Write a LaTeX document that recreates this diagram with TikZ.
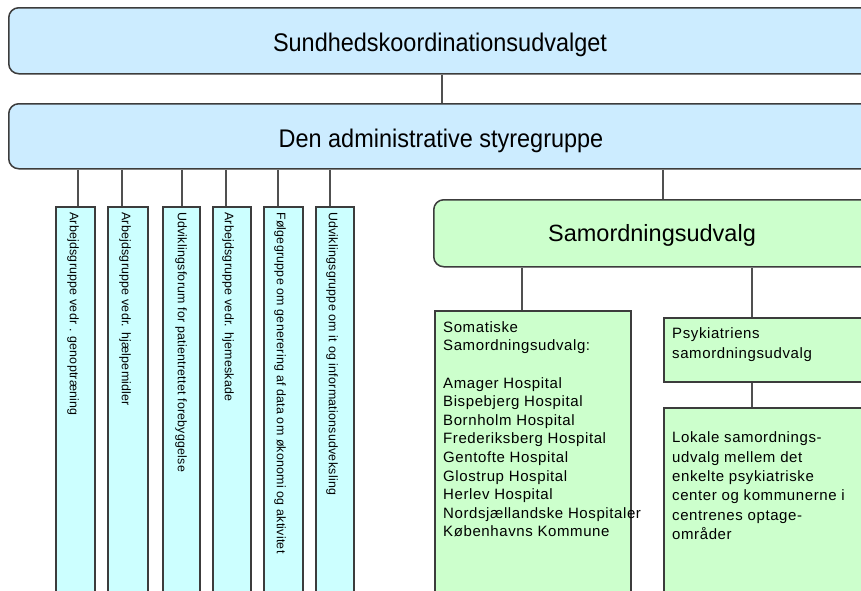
\documentclass[tikz,border=0pt]{standalone}
\usepackage{fontspec}
\setmainfont{Liberation Sans}
\newfontfamily\titlefont[FakeStretch=0.92]{Liberation Sans}
\newfontfamily\spacedfont[LetterSpace=4]{Liberation Sans}
\newfontfamily\columnfont[LetterSpace=2]{Liberation Sans}
\definecolor{boardblue}{HTML}{CCECFF}
\definecolor{groupcyan}{HTML}{CCFFFF}
\definecolor{coordgreen}{HTML}{CCFFCC}
\definecolor{edgegray}{HTML}{3C3C3C}
\definecolor{linkgray}{HTML}{505050}
\tikzset{
  frame/.style={draw=edgegray, line width=1.5pt, inner sep=0pt, anchor=north west},
  roundbox/.style={frame, rounded corners=10pt},
  headbox/.style={roundbox, fill=boardblue},
  greenround/.style={roundbox, fill=coordgreen},
  greenbox/.style={frame, fill=coordgreen},
  groupbox/.style={frame, fill=groupcyan},
  link/.style={draw=linkgray, line width=1.2pt},
  headtext/.style={anchor=base, inner sep=0pt, font=\titlefont\fontsize{25.5}{28}\selectfont},
  bigtext/.style={anchor=base, inner sep=0pt, font=\fontsize{23.5}{26}\selectfont},
  vtext/.style={rotate=-90, anchor=west, inner sep=0pt, font=\columnfont\fontsize{12.4}{14}\selectfont},
  listtext/.style={anchor=north west, inner sep=0pt, align=left, font=\spacedfont\fontsize{15}{18.6}\selectfont},
}
\begin{document}
\begin{tikzpicture}[x=1pt, y=-1pt]
\useasboundingbox (0,0) rectangle (861,590);
\clip (0,0) rectangle (861,590);

% top committee and steering group
\node[headbox, minimum width=864pt, minimum height=66pt] (sk) at (8,7) {};
\node[headtext] (skt) at (440,51) {Sundhedskoordinationsudvalget};
\node[headbox, minimum width=864pt, minimum height=65pt] (adm) at (8,103) {};
\node[headtext] (admt) at (441,147) {Den administrative styregruppe};

% working groups (vertical columns)
\node[groupbox, minimum width=39pt, minimum height=400pt] (g1) at (55,206) {};
\node[groupbox, minimum width=40pt, minimum height=400pt] (g2) at (107,206) {};
\node[groupbox, minimum width=37pt, minimum height=400pt] (g3) at (162,206) {};
\node[groupbox, minimum width=38pt, minimum height=400pt] (g4) at (212,206) {};
\node[groupbox, minimum width=39pt, minimum height=400pt] (g5) at (263,206) {};
\node[groupbox, minimum width=38pt, minimum height=400pt] (g6) at (315,206) {};
\node[vtext] (t1) at (73,212) {Arbejdsgruppe vedr . genoptræning};
\node[vtext] (t2) at (125,212) {Arbejdsgruppe vedr. hjælpemidler};
\node[vtext] (t3) at (181,212) {Udviklingsforum for patientrettet forebyggelse};
\node[vtext] (t4) at (228,212) {Arbejdsgruppe vedr. hjemeskade};
\node[vtext] (t5) at (280,212) {Følgegruppe om generering af data om økonomi og aktivitet};
\node[vtext] (t6) at (332,212) {Udviklingsgruppe om it og informationsudveksling};

% coordination committees
\node[greenround, minimum width=438pt, minimum height=67pt] (sam) at (433,199) {};
\node[bigtext] (samt) at (652,241.5) {Samordningsudvalg};
\node[greenbox, minimum width=196pt, minimum height=300pt] (som) at (434,310) {};
\node[listtext] (somt) at (443,321.2) {Somatiske\\Samordningsudvalg:\\[18.6pt]Amager Hospital\\Bispebjerg Hospital\\Bornholm Hospital\\Frederiksberg Hospital\\Gentofte Hospital\\Glostrup Hospital\\Herlev Hospital\\Nordsjællandske Hospitaler\\Københavns Kommune};
\node[greenbox, minimum width=220pt, minimum height=64pt] (psy) at (663,317) {};
\node[listtext, font=\spacedfont\fontsize{15}{20}\selectfont] (psyt) at (672,327) {Psykiatriens\\samordningsudvalg};
\node[greenbox, minimum width=220pt, minimum height=200pt] (lok) at (663,407) {};
\node[listtext, font=\spacedfont\fontsize{15}{19.4}\selectfont] (lokt) at (672,431.7) {Lokale samordnings-\\udvalg mellem det\\enkelte psykiatriske\\center og kommunerne i\\centrenes optage-\\områder};

% connector columns
\coordinate (xa) at (442,0);
\coordinate (x1) at (78,0);
\coordinate (x2) at (122,0);
\coordinate (x3) at (182,0);
\coordinate (x4) at (226,0);
\coordinate (x5) at (278,0);
\coordinate (x6) at (330,0);
\coordinate (xs) at (663,0);
\coordinate (xm) at (522,0);
\coordinate (xp) at (752,0);

\draw[link] (sk.south -| xa) -- (adm.north -| xa);
\foreach \g/\c in {g1/x1, g2/x2, g3/x3, g4/x4, g5/x5, g6/x6}
  \draw[link] (adm.south -| \c) -- (\g.north -| \c);
\draw[link] (adm.south -| xs) -- (sam.north -| xs);
\draw[link] (sam.south -| xm) -- (som.north -| xm);
\draw[link] (sam.south -| xp) -- (psy.north -| xp);
\draw[link] (psy.south -| xp) -- (lok.north -| xp);
\end{tikzpicture}
\end{document}
